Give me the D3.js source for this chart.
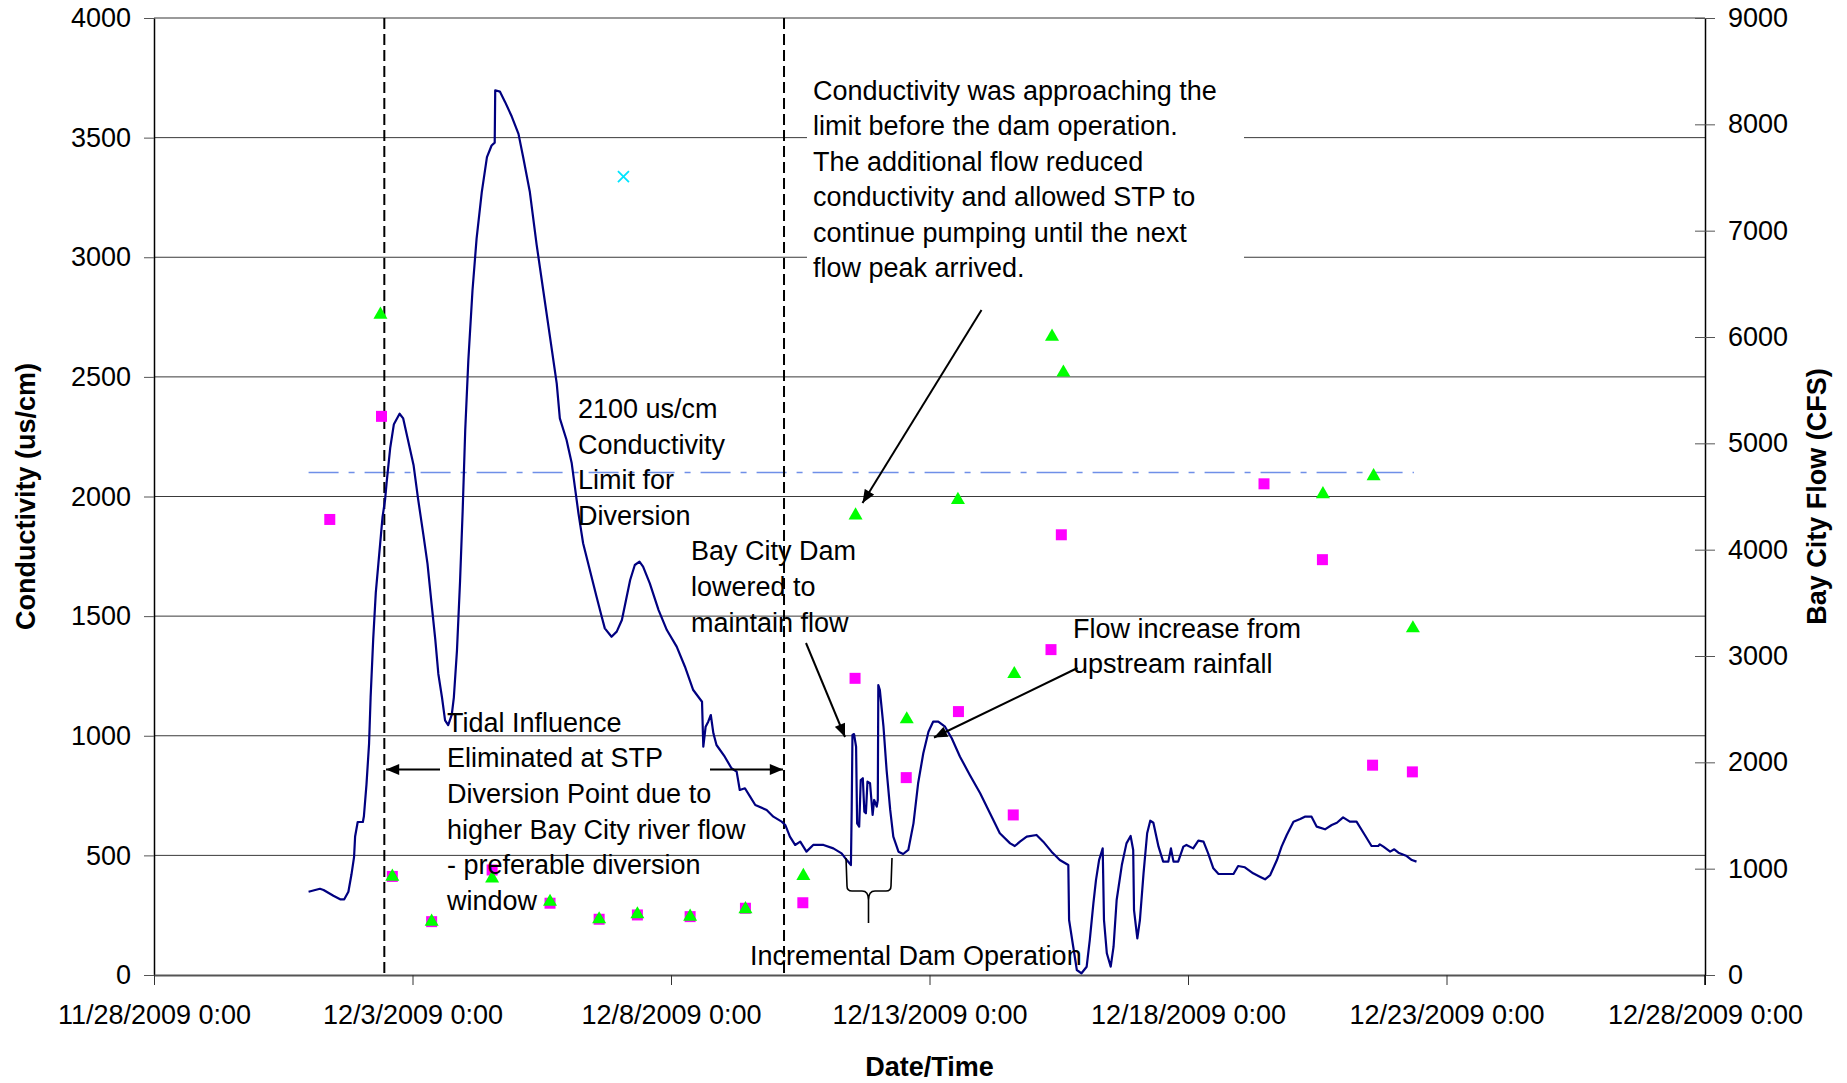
<!DOCTYPE html>
<html>
<head>
<meta charset="utf-8">
<script src="https://cdn.jsdelivr.net/npm/d3@7"></script>
<style>
  html, body { margin: 0; padding: 0; background: #fff; }
  svg { display: block; }
  text { font-family: "Liberation Sans", Arial, sans-serif; fill: #000; }
</style>
</head>
<body>
<svg id="chart" width="1847" height="1083"></svg>
<script>
// ---------------- DATA ----------------
// x values are days since 11/28/2009 0:00
const xTickDates = ["11/28/2009 0:00","12/3/2009 0:00","12/8/2009 0:00","12/13/2009 0:00","12/18/2009 0:00","12/23/2009 0:00","12/28/2009 0:00"];
const xTickDays = [0, 5, 10, 15, 20, 25, 30];
const leftTicks = [0, 500, 1000, 1500, 2000, 2500, 3000, 3500, 4000];
const rightTicks = [0, 1000, 2000, 3000, 4000, 5000, 6000, 7000, 8000, 9000];

// Bay City Flow (CFS) - right axis
const flowDays = [2.99,3.21,3.28,3.47,3.60,3.68,3.76,3.82,3.87,3.89,3.94,4.04,4.06,4.11,4.16,4.19,4.24,4.29,4.34,4.39,4.42,4.47,4.50,4.57,4.64,4.75,4.82,4.92,5.02,5.11,5.21,5.29,5.37,5.44,5.50,5.57,5.63,5.69,5.76,5.80,5.86,5.92,5.97,6.02,6.08,6.16,6.24,6.34,6.44,6.53,6.59,6.60,6.69,6.79,6.92,7.05,7.14,7.27,7.40,7.53,7.66,7.79,7.85,
  7.98,8.08,8.14,8.21,8.30,8.43,8.56,8.66,8.72,8.85,8.95,9.05,9.13,9.21,9.30,9.39,9.46,9.59,9.76,9.92,10.11,10.27,10.43,10.60,10.625,10.67,10.72,10.77,10.82,10.88,11.04,11.17,11.27,11.33,11.43,11.53,11.63,11.85,11.98,12.14,
  12.21,12.30,12.40,12.50,12.62,12.75,12.95,13.14,13.30,13.40,13.48,13.495,13.51,13.54,13.58,13.60,13.64,13.67,13.71,13.74,13.77,13.80,13.85,13.90,13.93,13.98,14.00,14.01,14.04,14.11,14.17,14.24,14.30,14.40,14.49,14.59,14.69,14.78,14.88,14.98,15.07,15.17,15.30,15.43,15.59,15.78,15.98,16.17,16.36,16.56,16.65,16.75,16.88,17.07,17.20,17.36,17.52,17.685,
  17.70,17.78,17.85,17.94,18.04,18.10,18.17,18.22,18.28,18.35,18.375,18.43,18.505,18.56,18.62,18.72,18.81,18.89,18.94,18.956,19.02,19.07,19.14,19.21,19.27,19.33,19.43,19.52,19.62,19.67,19.72,19.81,19.91,19.97,20.10,20.20,20.30,20.39,20.49,20.59,20.88,20.97,21.10,21.26,21.39,21.49,21.59,21.72,21.81,21.91,22.04,22.17,22.26,22.39,22.49,22.65,22.78,22.88,23.00,23.13,23.26,23.42,23.55,23.68,23.71,23.78,23.91,23.99,24.07,24.23,24.33,24.42];
const flowCfs = [783,811,799,745,712,712,783,947,1111,1302,1439,1439,1493,1793,2176,2612,3159,3596,3869,4142,4305,4470,4633,4961,5180,5278,5234,5015,4797,4470,4142,3869,3486,3159,2831,2612,2394,2350,2449,2612,3050,3705,4361,5125,5780,6435,6927,7363,7692,7801,7828,8320,8308,8211,8073,7910,7692,7363,6872,6435,5999,5562,5234,
  5031,4812,4592,4342,4060,3809,3558,3370,3260,3181,3229,3338,3527,3715,3856,3887,3840,3683,3432,3244,3088,2899,2680,2570,2147,2335,2382,2445,2273,2163,2053,1944,1912,1740,1756,1677,1599,1552,1489,1442,
  1411,1301,1223,1254,1160,1223,1223,1191,1144,1081,1034,1552,2257,2266,2147,1426,1395,1834,1850,1536,1521,1818,1803,1505,1646,1583,1646,2727,2680,2335,1928,1552,1301,1160,1138,1176,1426,1803,2085,2288,2382,2382,2335,2226,2053,1881,1709,1521,1333,1238,1213,1254,1301,1317,1254,1160,1081,1034,
  517,266,47,16,78,329,674,893,1081,1191,517,204,78,266,705,1034,1238,1307,1176,611,345,517,956,1333,1451,1432,1207,1066,1066,1191,1066,1066,1207,1223,1191,1263,1254,1144,1003,950,950,1025,1013,956,924,900,940,1081,1207,1317,1442,1467,1489,1489,1395,1370,1411,1432,1483,1442,1442,1317,1213,1213,1229,1207,1160,1182,1150,1119,1081,1066];

// Conductivity samples (us/cm) - left axis
const squareDays = [3.40,4.40,4.61,5.37,6.54,7.66,8.61,9.35,10.37,11.44,12.55,13.56,14.55,15.56,16.62,17.35,17.55,21.47,22.60,23.57,24.34];
const squareVals = [1904,2335,412,223,439,300,233,251,244,279,302,1240,825,1101,669,1360,1840,2053,1736,877,849];
const triangleDays = [4.38,4.61,5.37,6.54,7.66,8.61,9.35,10.37,11.44,12.56,13.57,14.56,15.55,16.64,17.37,17.59,22.61,23.59,24.35];
const triangleVals = [2760,411,223,404,306,233,254,244,275,414,1921,1069,1986,1258,2668,2518,2010,2085,1449];
const crossDays = [9.08];
const crossVals = [3337];

const limitValue = 2100;
const limitDays = [2.99, 24.37];
const markerLineDays = [4.455, 12.186];

// ---------------- CHART ----------------
const T0 = Date.UTC(2009, 10, 28);
const toDate = d => new Date(T0 + d * 864e5);

const L = 154, R = 1705, TOP = 18, BOT = 975;
const svg = d3.select("#chart");

const x = d3.scaleUtc().domain([toDate(0), toDate(30)]).range([L, R]);
const yL = d3.scaleLinear().domain([0, 4000]).range([BOT, TOP]);
const yR = d3.scaleLinear().domain([0, 9000]).range([BOT, TOP]);
const fmt = d3.format("d");

// gridlines
svg.append("g").selectAll("line").data(leftTicks.filter(v => v > 0 && v < 4000)).join("line")
  .attr("x1", L).attr("x2", R).attr("y1", d => yL(d)).attr("y2", d => yL(d))
  .attr("stroke", "#3a3a3a").attr("stroke-width", 1);
// top border
svg.append("line").attr("x1", L).attr("x2", R).attr("y1", yL(4000)).attr("y2", yL(4000))
  .attr("stroke", "#9a9a9a").attr("stroke-width", 2);

// left axis
const axL = svg.append("g").attr("transform", `translate(${L},0)`)
  .call(d3.axisLeft(yL).tickValues(leftTicks).tickFormat(fmt).tickSize(10).tickPadding(13).tickSizeOuter(0));
axL.select(".domain").attr("stroke", "#000").attr("stroke-width", 1.5);
axL.selectAll(".tick line").attr("stroke", "#555");
axL.selectAll("text").style("font-size", "27px").style("font-family", "Liberation Sans, Arial, sans-serif");

// bottom axis
const axB = svg.append("g").attr("transform", `translate(0,${BOT})`)
  .call(d3.axisBottom(x).tickValues(xTickDays.map(toDate)).tickSize(10).tickPadding(20).tickSizeOuter(0)
    .tickFormat((d, i) => xTickDates[i]));
axB.select(".domain").attr("stroke", "#555").attr("stroke-width", 2);
axB.selectAll(".tick line").attr("stroke", "#333");
axB.selectAll("text").style("font-size", "27px").style("font-family", "Liberation Sans, Arial, sans-serif");

// right axis
const axR = svg.append("g").attr("transform", `translate(${R},0)`)
  .call(d3.axisRight(yR).tickValues(rightTicks).tickFormat(fmt).tickSize(10).tickPadding(13).tickSizeOuter(0));
axR.select(".domain").attr("stroke", "#000").attr("stroke-width", 1.5);
axR.selectAll(".tick line").attr("x1", -10).attr("stroke", "#555");
axR.selectAll("text").style("font-size", "27px").style("font-family", "Liberation Sans, Arial, sans-serif");
svg.append("line").attr("x1", R).attr("x2", R).attr("y1", BOT).attr("y2", BOT + 10).attr("stroke", "#000").attr("stroke-width", 1.5);

// axis titles
svg.append("text").attr("transform", `translate(34.5,${(TOP + BOT) / 2}) rotate(-90)`)
  .attr("text-anchor", "middle").style("font-size", "27px").style("font-weight", "bold")
  .text("Conductivity (us/cm)");
svg.append("text").attr("transform", `translate(1826,${(TOP + BOT) / 2}) rotate(-90)`)
  .attr("text-anchor", "middle").style("font-size", "27px").style("font-weight", "bold")
  .text("Bay City Flow (CFS)");
svg.append("text").attr("x", (L + R) / 2).attr("y", 1076)
  .attr("text-anchor", "middle").style("font-size", "27px").style("font-weight", "bold")
  .text("Date/Time");

// 2100 limit line
svg.append("line")
  .attr("x1", x(toDate(limitDays[0]))).attr("x2", x(toDate(limitDays[1])))
  .attr("y1", yL(limitValue)).attr("y2", yL(limitValue))
  .attr("stroke", "#6f8fe8").attr("stroke-width", 1.5).attr("stroke-dasharray", "30,10,6,10");

// vertical dashed markers
svg.append("g").selectAll("line").data(markerLineDays).join("line")
  .attr("x1", d => x(toDate(d))).attr("x2", d => x(toDate(d)))
  .attr("y1", TOP).attr("y2", BOT)
  .attr("stroke", "#000").attr("stroke-width", 2).attr("stroke-dasharray", "11,5");

// flow line
const flowData = flowDays.map((d, i) => ({ t: toDate(d), v: flowCfs[i] }));
svg.append("path").datum(flowData)
  .attr("fill", "none").attr("stroke", "#000080").attr("stroke-width", 2.2).attr("stroke-linejoin", "round")
  .attr("d", d3.line().x(d => x(d.t)).y(d => yR(d.v)));

// scatter points
const sq = squareDays.map((d, i) => ({ t: toDate(d), v: squareVals[i] }));
svg.append("g").selectAll("path").data(sq).join("path")
  .attr("transform", d => `translate(${x(d.t)},${yL(d.v)})`)
  .attr("d", d3.symbol(d3.symbolSquare, 121)).attr("fill", "#ff00ff");
const tri = triangleDays.map((d, i) => ({ t: toDate(d), v: triangleVals[i] }));
svg.append("g").selectAll("path").data(tri).join("path")
  .attr("transform", d => `translate(${x(d.t)},${yL(d.v)})`)
  .attr("d", d3.symbol(d3.symbolTriangle, 85)).attr("fill", "#00ff00");
const cr = crossDays.map((d, i) => ({ t: toDate(d), v: crossVals[i] }));
svg.append("g").selectAll("path").data(cr).join("path")
  .attr("transform", d => `translate(${x(d.t)},${yL(d.v)})`)
  .attr("d", "M-5.5,-5.5L5.5,5.5M-5.5,5.5L5.5,-5.5").attr("stroke", "#00e5ff").attr("stroke-width", 1.8).attr("fill", "none");

// ---------------- ANNOTATIONS ----------------
const defs = svg.append("defs");
defs.append("marker").attr("id", "arr").attr("viewBox", "0 0 12 10").attr("refX", 12).attr("refY", 5)
  .attr("markerWidth", 14).attr("markerHeight", 11).attr("markerUnits", "userSpaceOnUse").attr("orient", "auto")
  .append("path").attr("d", "M0,0L12,5L0,10z").attr("fill", "#000");

function textBlock(lines, x0, y0, dy) {
  const t = svg.append("text").style("font-size", "27px");
  lines.forEach((s, i) => t.append("tspan").attr("x", x0).attr("y", y0 + i * dy).text(s));
}
function arrow(x1, y1, x2, y2) {
  svg.append("line").attr("x1", x1).attr("y1", y1).attr("x2", x2).attr("y2", y2)
    .attr("stroke", "#000").attr("stroke-width", 2).attr("marker-end", "url(#arr)");
}

// white box for the upper note
svg.append("rect").attr("x", 807).attr("y", 62).attr("width", 437).attr("height", 230).attr("fill", "#fff");
textBlock(["Conductivity was approaching the", "limit before the dam operation.", "The additional flow reduced",
  "conductivity and allowed STP to", "continue pumping until the next", "flow peak arrived."], 813, 100, 35.4);
arrow(981.5, 310, 862.5, 503);

textBlock(["2100 us/cm", "Conductivity", "Limit for", "Diversion"], 578, 418, 35.7);

textBlock(["Bay City Dam", "lowered to", "maintain flow"], 691, 560, 35.8);
arrow(806, 643, 845, 737);

textBlock(["Flow increase from", "upstream rainfall"], 1073, 637.5, 35.5);
arrow(1077.5, 668, 934, 737.5);

textBlock(["Tidal Influence", "Eliminated at STP", "Diversion Point due to", "higher Bay City river flow",
  "- preferable diversion", "window"], 447, 731.5, 35.7);
arrow(440, 769.5, 386, 769.5);
arrow(710, 769.5, 783, 769.5);

svg.append("text").attr("x", 750).attr("y", 965).style("font-size", "27px").text("Incremental Dam Operation");

// brace
svg.append("path")
  .attr("d", "M846,858 L847,886 Q847,891 852,891 L862,891 Q868.5,891 868.5,900 L868.5,923 M868.5,900 Q868.5,891 875,891 L886,891 Q891,891 891,886 L892,858")
  .attr("fill", "none").attr("stroke", "#000").attr("stroke-width", 1.6);
</script>
</body>
</html>
